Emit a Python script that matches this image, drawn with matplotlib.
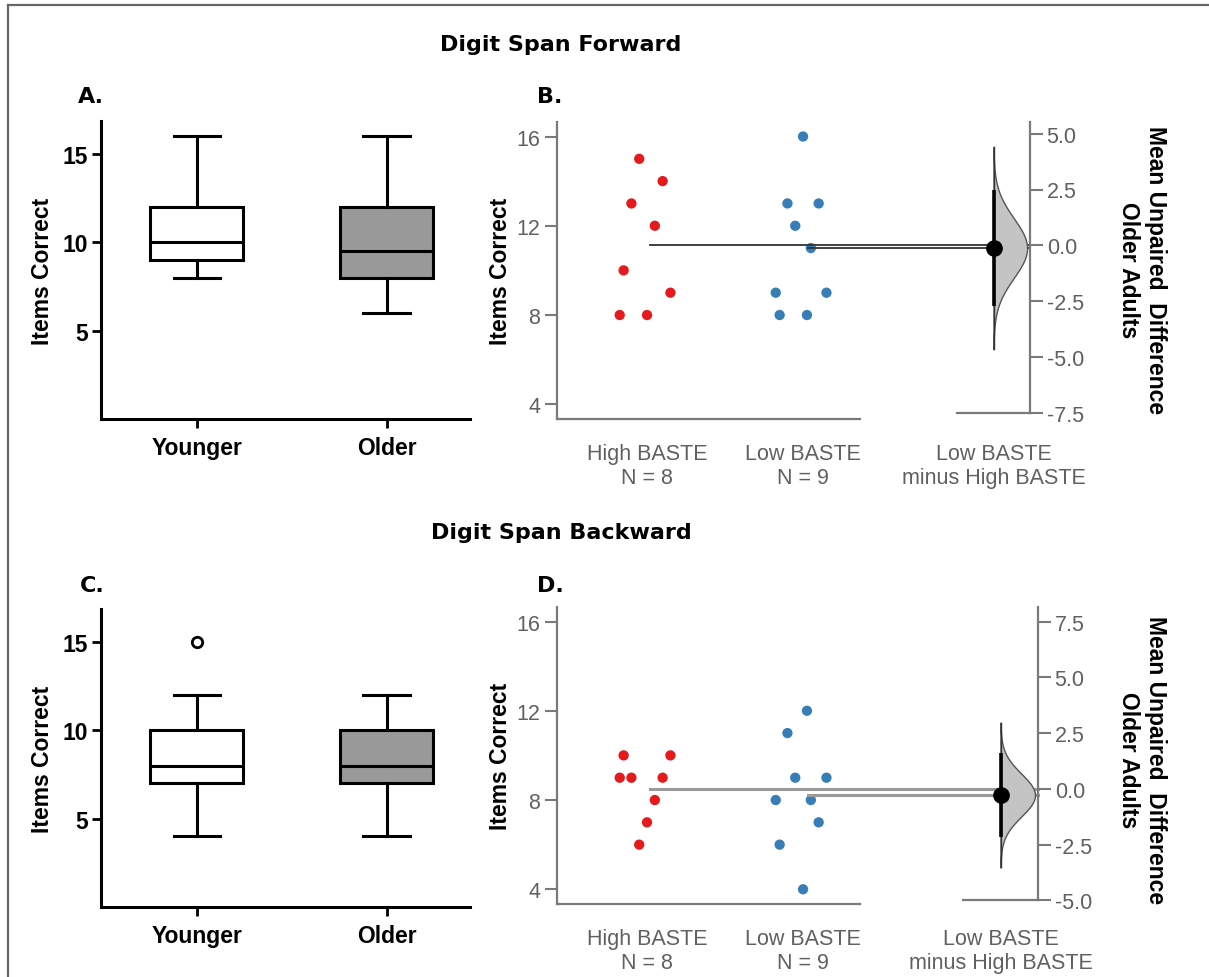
import numpy as np
import matplotlib
matplotlib.use("Agg")
import matplotlib.pyplot as plt
from matplotlib.lines import Line2D

plt.rcParams["font.family"] = ["Liberation Sans", "DejaVu Sans"]

# ---------------- data ----------------
age_groups = ["Younger", "Older"]
# box statistics: whisker low, q1, median, q3, whisker high
fwd_box_younger = [8, 9, 10, 12, 16]
fwd_box_older = [6, 8, 9.5, 12, 16]
bwd_box_younger = [4, 7, 8, 10, 12]
bwd_box_older = [4, 7, 8, 10, 12]
bwd_outliers_younger = [15]
box_ticks = [5, 10, 15]

baste_labels = ["High BASTE\nN = 8", "Low BASTE\nN = 9"]
contrast_label = "Low BASTE\nminus High BASTE"
fwd_high = [8, 13, 14, 10, 12, 15, 9, 8]
fwd_low = [16, 13, 13, 8, 11, 12, 9, 9, 8]
bwd_high = [7, 9, 9, 10, 8, 6, 10, 9]
bwd_low = [4, 11, 7, 6, 8, 9, 9, 8, 12]
raw_ticks = [4, 8, 12, 16]
fwd_diff_ticks = [-7.5, -5.0, -2.5, 0.0, 2.5, 5.0]
bwd_diff_ticks = [-5.0, -2.5, 0.0, 2.5, 5.0, 7.5]
diff_axis_label = "Mean Unpaired  Difference\nOlder Adults"

titles = ["Digit Span Forward", "Digit Span Backward"]
panel_letters = ["A.", "B.", "C.", "D."]

# ---------------- style ----------------
W, H = 1209, 978
RED = "#e41a1c"
BLUE = "#377eb8"
GREY_TXT = "#606060"
GREY_SP = "#7a7a7a"
BOLD_FS = 16.5
GREY_FS = 15.5

fig = plt.figure(figsize=(W / 100, H / 100), dpi=100)


def add_ax(l, r, b, t):
    return fig.add_axes([l / W, 1 - b / H, (r - l) / W, (b - t) / H])


def stats(v, fl=()):
    return dict(whislo=v[0], q1=v[1], med=v[2], q3=v[3], whishi=v[4], fliers=list(fl))


def box_panel(ax, young, old, fliers):
    lw = 2.2
    ax.bxp([stats(young, fliers), stats(old)], positions=[1, 2], widths=0.49,
           capwidths=0.245, patch_artist=True, showfliers=True,
           boxprops=dict(linewidth=lw, edgecolor="black"),
           whiskerprops=dict(linewidth=lw, color="black"),
           capprops=dict(linewidth=lw, color="black"),
           medianprops=dict(linewidth=lw, color="black"),
           flierprops=dict(marker="o", markerfacecolor="white", markeredgecolor="black",
                           markersize=7.5, markeredgewidth=2))
    ax.patches[0].set_facecolor("white")
    ax.patches[1].set_facecolor("#999999")
    ax.set_xlim(0.495, 2.44)
    ax.set_ylim(0, 16.85)
    ax.set_yticks(box_ticks)
    ax.set_xticks([1, 2])
    ax.set_xticklabels(age_groups)
    for s in ["top", "right"]:
        ax.spines[s].set_visible(False)
    for s in ["left", "bottom"]:
        ax.spines[s].set_linewidth(2.2)
    ax.tick_params(axis="both", width=2, length=6.5, labelsize=BOLD_FS, pad=3)
    ax.tick_params(axis="x", pad=6)
    for lab in ax.get_xticklabels() + ax.get_yticklabels():
        lab.set_fontweight("bold")
    ax.set_ylabel("Items Correct", fontsize=BOLD_FS, fontweight="bold", labelpad=6)


def vdc(i, base=2):
    v, denom = 0.0, 1.0
    while i:
        denom *= base
        i, rem = divmod(i, base)
        v += rem / denom
    return v


def jitter(n, width=0.2):
    return np.array([(vdc(i + 1) - 0.5) * 2 * width for i in range(n)])


def estimation_panel(ax, axc, high, low, diff_ticks, line_col, line_lw, label_y):
    high = np.asarray(high, float)
    low = np.asarray(low, float)
    ylim = (3.34, 16.65)
    ax.set_xlim(-0.577, 1.365)
    ax.set_ylim(*ylim)
    ax.scatter(0 + jitter(len(high)), high, s=55, color=RED, edgecolors="none", zorder=3)
    ax.scatter(1 + jitter(len(low)), low, s=55, color=BLUE, edgecolors="none", zorder=3)
    ax.set_yticks(raw_ticks)
    ax.set_xticks([0, 1])
    ax.set_xticklabels(baste_labels)
    for s in ["top", "right"]:
        ax.spines[s].set_visible(False)
    for s in ["left", "bottom"]:
        ax.spines[s].set_linewidth(1.6)
        ax.spines[s].set_color(GREY_SP)
    ax.tick_params(axis="y", length=9, width=1.5, color=GREY_SP, labelcolor=GREY_TXT,
                   labelsize=GREY_FS, pad=3)
    ax.tick_params(axis="x", length=0, labelcolor=GREY_TXT, labelsize=GREY_FS, pad=17)
    ax.set_ylabel("Items Correct", fontsize=BOLD_FS, fontweight="bold", labelpad=3)

    # contrast axes
    hm, lm = high.mean(), low.mean()
    diff = lm - hm
    se = np.sqrt(high.var(ddof=1) / len(high) + low.var(ddof=1) / len(low))
    axc.set_xlim(-0.5, 0.5)
    axc.set_ylim(ylim[0] - hm, ylim[1] - hm)
    yy = np.linspace(diff - 3.4 * se, diff + 3.4 * se, 200)
    dens = np.exp(-0.5 * ((yy - diff) / se) ** 2)
    axc.fill_betweenx(yy, 0, dens * 0.46, facecolor="#c4c4c4", edgecolor="#555555",
                      linewidth=1.0, zorder=2)
    axc.plot([0, 0], [yy[0], yy[-1]], color="#333333", lw=1.0, zorder=2)
    axc.plot([0, 0], [diff - 1.96 * se, diff + 1.96 * se], color="black", lw=2.6, zorder=4,
             solid_capstyle="butt")
    axc.plot([0], [diff], "o", color="black", markersize=11, zorder=5)

    # mean reference lines running into the contrast axes
    fig.canvas.draw()
    for pos, m in [(0.02, hm), (1.03, lm)]:
        disp = ax.transData.transform((pos, m))
        xs = axc.transData.inverted().transform(disp)[0]
        axc.add_line(Line2D([xs, 0.5], [m - hm, m - hm], color=line_col, lw=line_lw,
                            clip_on=False, zorder=1))

    axc.yaxis.tick_right()
    axc.set_yticks(diff_ticks)
    axc.set_yticklabels([f"{t:.1f}" for t in diff_ticks])
    axc.spines["left"].set_visible(False)
    axc.spines["top"].set_visible(False)
    axc.spines["right"].set_bounds(diff_ticks[0], axc.get_ylim()[1])
    axc.spines["bottom"].set_position(("data", diff_ticks[0]))
    for s in ["right", "bottom"]:
        axc.spines[s].set_linewidth(1.6)
        axc.spines[s].set_color(GREY_SP)
    axc.set_xticks([0])
    axc.set_xticklabels([contrast_label])
    lo, hi = axc.get_ylim()
    shift_pt = (diff_ticks[0] - lo) / (hi - lo) * axc.get_position().height * H * 72 / 100
    axc.tick_params(axis="y", length=9, width=1.5, color=GREY_SP, labelcolor=GREY_TXT,
                    labelsize=GREY_FS, pad=3)
    axc.tick_params(axis="x", length=0, labelcolor=GREY_TXT, labelsize=GREY_FS,
                    pad=17 + shift_pt)
    axc.set_facecolor("none")
    fig.text(1142 / W, 1 - label_y / H, diff_axis_label, rotation=270, ha="center",
             va="center", fontsize=BOLD_FS, fontweight="bold", linespacing=1.25,
             multialignment="center")


# panel A / C
axA = add_ax(101, 470, 420, 122)
box_panel(axA, fwd_box_younger, fwd_box_older, [])
axC = add_ax(101, 470, 908, 610)
box_panel(axC, bwd_box_younger, bwd_box_older, bwd_outliers_younger)

# panel B / D
axB = add_ax(557, 860, 420, 123)
axBc = add_ax(957, 1030, 420, 123)
estimation_panel(axB, axBc, fwd_high, fwd_low, fwd_diff_ticks, "#333333", 1.3, 270)

axD = add_ax(557, 860, 905, 608)
axDc = add_ax(963, 1038, 905, 608)
estimation_panel(axD, axDc, bwd_high, bwd_low, bwd_diff_ticks, "#9a9a9a", 2.2, 760)

# titles and panel letters
fig.text(561 / W, 1 - 45 / H, titles[0], ha="center", va="center", fontsize=16,
         fontweight="bold", family=["DejaVu Sans"])
fig.text(561 / W, 1 - 533 / H, titles[1], ha="center", va="center", fontsize=16,
         fontweight="bold", family=["DejaVu Sans"])
for (x, y), lab in zip([(78, 97), (537, 97), (80, 586), (537, 586)], panel_letters):
    fig.text(x / W, 1 - y / H, lab, ha="left", va="center", fontsize=16, fontweight="bold",
             family=["DejaVu Sans"])

# figure border (left and top edges)
fig.add_artist(Line2D([8 / W, 8 / W], [0, 1 - 6 / H], transform=fig.transFigure,
                      color="#666666", lw=1.6))
fig.add_artist(Line2D([8 / W, 1], [1 - 6 / H, 1 - 6 / H], transform=fig.transFigure,
                      color="#666666", lw=1.6))

fig.savefig("out.png", dpi=100)
